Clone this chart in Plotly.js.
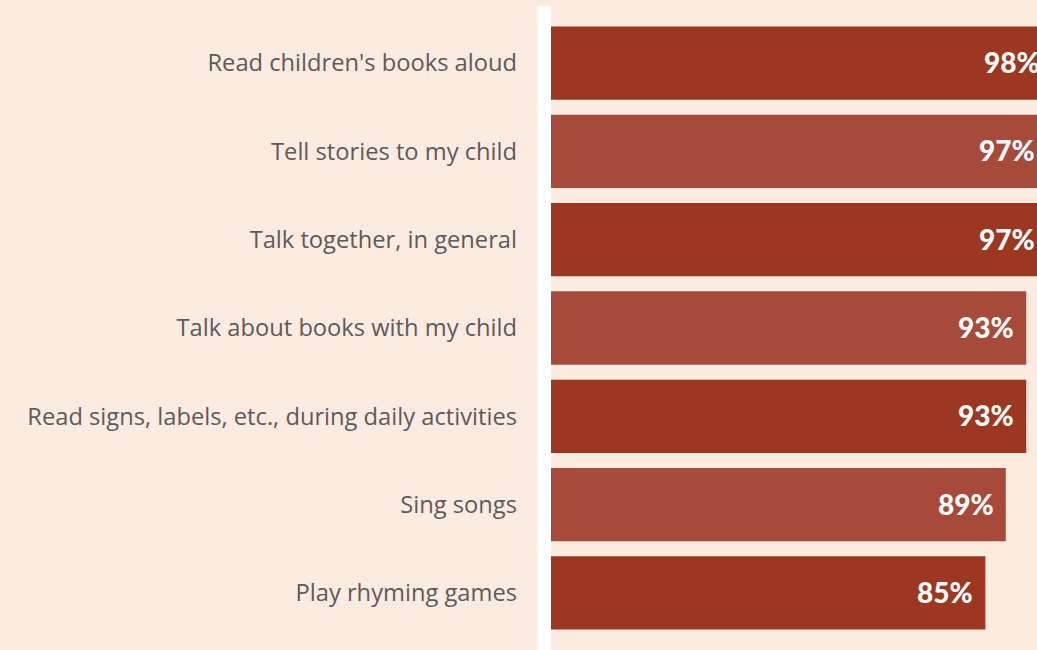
<!DOCTYPE html>
<html>
<head>
<meta charset="utf-8">
<script src="https://cdn.plot.ly/plotly-3.0.1.min.js"></script>
<style>
html, body { margin: 0; padding: 0; overflow: hidden; background: #fcebe1; }
#chart { width: 1062px; height: 650px; }
</style>
</head>
<body>
<div id="chart"></div>
<script>
const categories = [
  "Read children's books aloud",
  "Tell stories to my child",
  "Talk together, in general",
  "Talk about books with my child",
  "Read signs, labels, etc., during daily activities",
  "Sing songs",
  "Play rhyming games"
];
const values = [98, 97, 97, 93, 93, 89, 85];
const valueLabels = ["98%", "97%", "97%", "93%", "93%", "89%", "85%"];

const dark = '#9c3722', light = '#a84a3a';
const barColors = categories.map((c, i) => i % 2 === 0 ? dark : light);

const trace = {
  type: 'bar',
  orientation: 'h',
  y: categories,
  x: values,
  marker: { color: barColors, line: { width: 0 } },
  hoverinfo: 'none'
};

const annotations = categories.map((c, i) => ({
  x: values[i], y: c, xref: 'x', yref: 'y',
  text: valueLabels[i], showarrow: false,
  xanchor: 'right', yanchor: 'middle', xshift: -10, yshift: 1,
  font: { family: 'Lato', size: 28, color: '#ffffff', weight: 900 }
}));

const layout = {
  width: 1062, height: 650,
  margin: { l: 551, r: 0, t: 19, b: 13, pad: 0 },
  paper_bgcolor: '#fcebe1',
  plot_bgcolor: '#fcebe1',
  bargap: 0.17,
  showlegend: false,
  xaxis: { range: [0, 100], visible: false, fixedrange: true },
  yaxis: {
    autorange: 'reversed', showgrid: false, zeroline: false, showline: false,
    ticks: '', ticklabelstandoff: 33,
    tickfont: { family: 'Open Sans', size: 23.7, color: '#5b5b5b' }, fixedrange: true
  },
  shapes: [{
    type: 'rect', xref: 'paper', yref: 'paper',
    x0: -14 / 511, x1: 0, y0: -0.05, y1: 1.021,
    fillcolor: '#ffffff', line: { width: 0 }, layer: 'above'
  }],
  annotations: annotations
};

Plotly.newPlot('chart', [trace], layout, { displayModeBar: false, staticPlot: true });
</script>
</body>
</html>
